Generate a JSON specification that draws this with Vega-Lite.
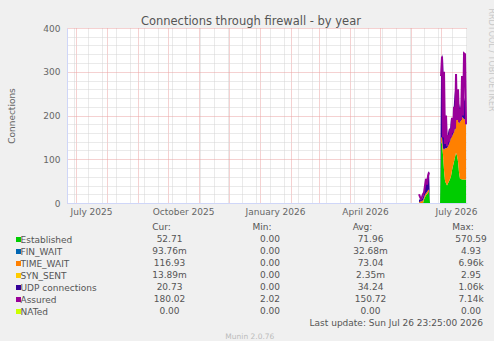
{
  "$schema": "https://vega.github.io/schema/vega-lite/v6.json",
  "background": "#f0f0f0",
  "padding": {"left": 7, "top": 8, "right": 0, "bottom": 0},
  "spacing": 7,
  "config": {
    "font": "DejaVu Sans",
    "view": {"stroke": null},
    "legend": {"disable": true},
    "axis": {"labelFont": "DejaVu Sans", "titleFont": "DejaVu Sans", "labelColor": "#666666", "titleColor": "#666666", "titleFontWeight": "normal"},
    "title": {"font": "DejaVu Sans", "fontWeight": "normal"}
  },
  "vconcat": [
    {
      "width": 400,
      "height": 175,
      "view": {"fill": "#ffffff", "stroke": null},
      "title": {"text": "Connections through firewall - by year", "fontSize": 11.5, "color": "#555555", "anchor": "middle", "frame": "bounds", "offset": -19},
      "data": {"values": [
        {"date": "2026-06-09", "Established": 0, "TIME_WAIT": 2, "UDP connections": 6, "Assured": 20},
        {"date": "2026-06-10", "Established": 0, "TIME_WAIT": 3, "UDP connections": 5, "Assured": 14},
        {"date": "2026-06-11", "Established": 0, "TIME_WAIT": 4, "UDP connections": 3, "Assured": 9},
        {"date": "2026-06-12", "Established": 0, "TIME_WAIT": 5, "UDP connections": 5, "Assured": 14},
        {"date": "2026-06-13", "Established": 0, "TIME_WAIT": 6, "UDP connections": 8, "Assured": 20},
        {"date": "2026-06-14", "Established": 8, "TIME_WAIT": 5, "UDP connections": 12, "Assured": 24},
        {"date": "2026-06-15", "Established": 14, "TIME_WAIT": 5, "UDP connections": 22, "Assured": 40},
        {"date": "2026-06-16", "Established": 18, "TIME_WAIT": 5, "UDP connections": 35, "Assured": 55},
        {"date": "2026-06-17", "Established": 20, "TIME_WAIT": 5, "UDP connections": 22, "Assured": 42},
        {"date": "2026-06-18", "Established": 24, "TIME_WAIT": 5, "UDP connections": 40, "Assured": 62},
        {"date": "2026-06-19", "Established": 26, "TIME_WAIT": 5, "UDP connections": 42, "Assured": 70},
        {"date": "2026-06-20", "Established": 0, "TIME_WAIT": 0, "UDP connections": 0, "Assured": null},
        {"date": "2026-06-30", "Established": 0, "TIME_WAIT": 0, "UDP connections": 0, "Assured": null},
        {"date": "2026-07-01", "Established": 140, "TIME_WAIT": 10, "UDP connections": 150, "Assured": 290},
        {"date": "2026-07-02", "Established": 135, "TIME_WAIT": 15, "UDP connections": 190, "Assured": 335},
        {"date": "2026-07-03", "Established": 110, "TIME_WAIT": 15, "UDP connections": 205, "Assured": 150},
        {"date": "2026-07-04", "Established": 75, "TIME_WAIT": 47, "UDP connections": 140, "Assured": 300},
        {"date": "2026-07-05", "Established": 50, "TIME_WAIT": 75, "UDP connections": 80, "Assured": 135},
        {"date": "2026-07-06", "Established": 45, "TIME_WAIT": 80, "UDP connections": 30, "Assured": 200},
        {"date": "2026-07-07", "Established": 40, "TIME_WAIT": 86, "UDP connections": 20, "Assured": 130},
        {"date": "2026-07-08", "Established": 45, "TIME_WAIT": 85, "UDP connections": 30, "Assured": 155},
        {"date": "2026-07-09", "Established": 50, "TIME_WAIT": 85, "UDP connections": 35, "Assured": 140},
        {"date": "2026-07-10", "Established": 55, "TIME_WAIT": 87, "UDP connections": 25, "Assured": 170},
        {"date": "2026-07-11", "Established": 62, "TIME_WAIT": 88, "UDP connections": 45, "Assured": 150},
        {"date": "2026-07-12", "Established": 75, "TIME_WAIT": 77, "UDP connections": 25, "Assured": 195},
        {"date": "2026-07-13", "Established": 85, "TIME_WAIT": 73, "UDP connections": 30, "Assured": 160},
        {"date": "2026-07-14", "Established": 95, "TIME_WAIT": 67, "UDP connections": 70, "Assured": 220},
        {"date": "2026-07-15", "Established": 105, "TIME_WAIT": 67, "UDP connections": 85, "Assured": 170},
        {"date": "2026-07-16", "Established": 115, "TIME_WAIT": 73, "UDP connections": 90, "Assured": 295},
        {"date": "2026-07-17", "Established": 108, "TIME_WAIT": 89, "UDP connections": 50, "Assured": 190},
        {"date": "2026-07-18", "Established": 95, "TIME_WAIT": 95, "UDP connections": 45, "Assured": 260},
        {"date": "2026-07-19", "Established": 70, "TIME_WAIT": 112, "UDP connections": 45, "Assured": 185},
        {"date": "2026-07-20", "Established": 55, "TIME_WAIT": 131, "UDP connections": 30, "Assured": 215},
        {"date": "2026-07-21", "Established": 55, "TIME_WAIT": 134, "UDP connections": 35, "Assured": 190},
        {"date": "2026-07-22", "Established": 54, "TIME_WAIT": 142, "UDP connections": 45, "Assured": 290},
        {"date": "2026-07-23", "Established": 54, "TIME_WAIT": 141, "UDP connections": 40, "Assured": 200},
        {"date": "2026-07-24", "Established": 54, "TIME_WAIT": 137, "UDP connections": 50, "Assured": 342},
        {"date": "2026-07-25", "Established": 54, "TIME_WAIT": 138, "UDP connections": 40, "Assured": 340},
        {"date": "2026-07-26", "Established": 53, "TIME_WAIT": 125, "UDP connections": 22, "Assured": 180}
      ]},
      "encoding": {
        "x": {
          "field": "date", "type": "temporal",
          "scale": {"type": "utc", "domain": [
            {"year": 2025, "month": 6, "date": 21, "hours": 23, "minutes": 25, "utc": true},
            {"year": 2026, "month": 7, "date": 26, "hours": 23, "minutes": 25, "utc": true}
          ]},
          "axis": {
            "title": null,
            "values": [
              {"year": 2025, "month": 6, "date": 29, "utc": true},
              {"year": 2025, "month": 7, "date": 1, "utc": true},
              {"year": 2025, "month": 7, "date": 13, "utc": true},
              {"year": 2025, "month": 7, "date": 27, "utc": true},
              {"year": 2025, "month": 8, "date": 1, "utc": true},
              {"year": 2025, "month": 8, "date": 10, "utc": true},
              {"year": 2025, "month": 8, "date": 24, "utc": true},
              {"year": 2025, "month": 9, "date": 1, "utc": true},
              {"year": 2025, "month": 9, "date": 7, "utc": true},
              {"year": 2025, "month": 9, "date": 21, "utc": true},
              {"year": 2025, "month": 10, "date": 1, "utc": true},
              {"year": 2025, "month": 10, "date": 5, "utc": true},
              {"year": 2025, "month": 10, "date": 19, "utc": true},
              {"year": 2025, "month": 11, "date": 1, "utc": true},
              {"year": 2025, "month": 11, "date": 2, "utc": true},
              {"year": 2025, "month": 11, "date": 16, "utc": true},
              {"year": 2025, "month": 11, "date": 30, "utc": true},
              {"year": 2025, "month": 12, "date": 1, "utc": true},
              {"year": 2025, "month": 12, "date": 14, "utc": true},
              {"year": 2025, "month": 12, "date": 28, "utc": true},
              {"year": 2026, "month": 1, "date": 1, "utc": true},
              {"year": 2026, "month": 1, "date": 11, "utc": true},
              {"year": 2026, "month": 1, "date": 25, "utc": true},
              {"year": 2026, "month": 2, "date": 1, "utc": true},
              {"year": 2026, "month": 2, "date": 8, "utc": true},
              {"year": 2026, "month": 2, "date": 22, "utc": true},
              {"year": 2026, "month": 3, "date": 1, "utc": true},
              {"year": 2026, "month": 3, "date": 8, "utc": true},
              {"year": 2026, "month": 3, "date": 22, "utc": true},
              {"year": 2026, "month": 4, "date": 1, "utc": true},
              {"year": 2026, "month": 4, "date": 5, "utc": true},
              {"year": 2026, "month": 4, "date": 19, "utc": true},
              {"year": 2026, "month": 5, "date": 1, "utc": true},
              {"year": 2026, "month": 5, "date": 3, "utc": true},
              {"year": 2026, "month": 5, "date": 17, "utc": true},
              {"year": 2026, "month": 5, "date": 31, "utc": true},
              {"year": 2026, "month": 6, "date": 1, "utc": true},
              {"year": 2026, "month": 6, "date": 14, "utc": true},
              {"year": 2026, "month": 6, "date": 28, "utc": true},
              {"year": 2026, "month": 7, "date": 1, "utc": true},
              {"year": 2026, "month": 7, "date": 12, "utc": true},
              {"year": 2026, "month": 7, "date": 26, "utc": true}
            ],
            "labelExpr": "utcdate(datum.value) === 1 && utcmonth(datum.value) % 3 === 0 ? utcFormat(datum.value, '%B %Y') : ''",
            "labelOffset": 15,
            "labelOverlap": false,
            "labelFlush": false,
            "labelBound": false,
            "labelFontSize": 9,
            "labelPadding": 4,
            "ticks": false,
            "domainColor": "#cfd6f8",
            "grid": true,
            "gridColor": {"condition": {"test": "utcdate(datum.value) === 1", "value": "#eba3a3"}, "value": "#d4d4d4"},
            "gridDash": [1, 1],
            "gridWidth": 1
          }
        }
      },
      "layer": [
        {
          "transform": [{"fold": ["Established", "TIME_WAIT", "UDP connections"], "as": ["series", "value"]}],
          "mark": {"type": "area", "interpolate": "linear"},
          "encoding": {
            "y": {
              "field": "value", "type": "quantitative", "stack": "zero",
              "scale": {"domain": [0, 400], "nice": false},
              "axis": {
                "title": "Connections",
                "titleFontSize": 9,
                "titlePadding": 26,
                "values": [0, 20, 40, 60, 80, 100, 120, 140, 160, 180, 200, 220, 240, 260, 280, 300, 320, 340, 360, 380, 400],
                "labelExpr": "datum.value % 100 === 0 ? datum.label : ''",
                "labelFontSize": 9,
                "labelPadding": 7,
                "labelOverlap": false,
                "ticks": false,
                "domainColor": "#cfd6f8",
                "grid": true,
                "gridColor": {"condition": {"test": "datum.value % 100 === 0", "value": "#eba3a3"}, "value": "#d4d4d4"},
                "gridDash": [1, 1]
              }
            },
            "color": {
              "field": "series", "type": "nominal",
              "scale": {
                "domain": ["Established", "FIN_WAIT", "TIME_WAIT", "SYN_SENT", "UDP connections", "Assured", "NATed"],
                "range": ["#00cc00", "#0066b3", "#ff8000", "#ffcc00", "#330099", "#990099", "#ccff00"]
              },
              "legend": null
            },
            "order": {"field": "series", "sort": "ascending"}
          }
        },
        {
          "mark": {"type": "line", "strokeWidth": 2, "invalid": "break-paths-show-domains"},
          "encoding": {
            "y": {
              "field": "Assured", "type": "quantitative",
              "axis": {
                "orient": "right",
                "title": "RRDTOOL / TOBI OETIKER",
                "labels": false, "ticks": false, "domain": false, "grid": false,
                "titleFontSize": 8,
                "titleColor": "#c8c8c8",
                "titlePadding": 19,
                "titleAngle": 90,
                "titleAlign": "left",
                "titleY": -20
              }
            },
            "color": {"datum": "Assured", "type": "nominal", "legend": null}
          }
        }
      ],
      "resolve": {"axis": {"y": "independent"}}
    },
    {
      "width": 404,
      "height": 96,
      "view": {"stroke": null},
      "title": {"text": "Munin 2.0.76", "orient": "bottom", "anchor": "middle", "frame": "bounds", "fontSize": 7.5, "color": "#bbbbbb", "offset": 5},
      "data": {"values": [
        {"s": "Established", "cur": "52.71", "min": "0.00", "avg": "71.96", "max": "570.59"},
        {"s": "FIN_WAIT", "cur": "93.76m", "min": "0.00", "avg": "32.68m", "max": "4.93"},
        {"s": "TIME_WAIT", "cur": "116.93", "min": "0.00", "avg": "73.04", "max": "6.96k"},
        {"s": "SYN_SENT", "cur": "13.89m", "min": "0.00", "avg": "2.35m", "max": "2.95"},
        {"s": "UDP connections", "cur": "20.73", "min": "0.00", "avg": "34.24", "max": "1.06k"},
        {"s": "Assured", "cur": "180.02", "min": "2.02", "avg": "150.72", "max": "7.14k"},
        {"s": "NATed", "cur": "0.00", "min": "0.00", "avg": "0.00", "max": "0.00"}
      ]},
      "encoding": {
        "x": {"field": "stat", "type": "nominal", "scale": {"type": "point", "domain": ["cur", "min", "avg", "max"], "padding": 0.51, "align": 1}, "axis": null},
        "y": {
          "field": "s", "type": "nominal",
          "scale": {"type": "point", "padding": 0, "domain": ["hdr", "Established", "FIN_WAIT", "TIME_WAIT", "SYN_SENT", "UDP connections", "Assured", "NATed", "upd"]},
          "axis": {
            "values": ["Established", "FIN_WAIT", "TIME_WAIT", "SYN_SENT", "UDP connections", "Assured", "NATed"],
            "title": null, "domain": false, "grid": false,
            "offset": 46.5,
            "ticks": true, "tickSize": 5, "tickWidth": 5,
            "tickColor": {"condition": [
              {"test": "datum.value === 'Established'", "value": "#00cc00"},
              {"test": "datum.value === 'FIN_WAIT'", "value": "#0066b3"},
              {"test": "datum.value === 'TIME_WAIT'", "value": "#ff8000"},
              {"test": "datum.value === 'SYN_SENT'", "value": "#ffcc00"},
              {"test": "datum.value === 'UDP connections'", "value": "#330099"},
              {"test": "datum.value === 'Assured'", "value": "#990099"}
            ], "value": "#ccff00"},
            "labelAlign": "left",
            "labelPadding": -4.5,
            "labelFontSize": 9,
            "labelColor": "#555555",
            "labelBaseline": "middle"
          }
        }
      },
      "layer": [
        {
          "transform": [{"fold": ["cur", "min", "avg", "max"], "as": ["stat", "txt"]}],
          "mark": {"type": "text", "fontSize": 9, "color": "#555555", "align": "center", "baseline": "middle"},
          "encoding": {"text": {"field": "txt"}}
        },
        {
          "data": {"values": [{"s": "hdr", "stat": "cur", "h": "Cur:"}, {"s": "hdr", "stat": "min", "h": "Min:"}, {"s": "hdr", "stat": "avg", "h": "Avg:"}, {"s": "hdr", "stat": "max", "h": "Max:"}]},
          "mark": {"type": "text", "fontSize": 9, "color": "#555555", "dx": -8, "baseline": "middle"},
          "encoding": {"text": {"field": "h"}}
        },
        {
          "data": {"values": [{"s": "upd", "stat": "max", "t": "Last update: Sun Jul 26 23:25:00 2026"}]},
          "mark": {"type": "text", "fontSize": 9, "color": "#555555", "align": "right", "dx": 12, "baseline": "middle"},
          "encoding": {"text": {"field": "t"}}
        }
      ]
    }
  ]
}
